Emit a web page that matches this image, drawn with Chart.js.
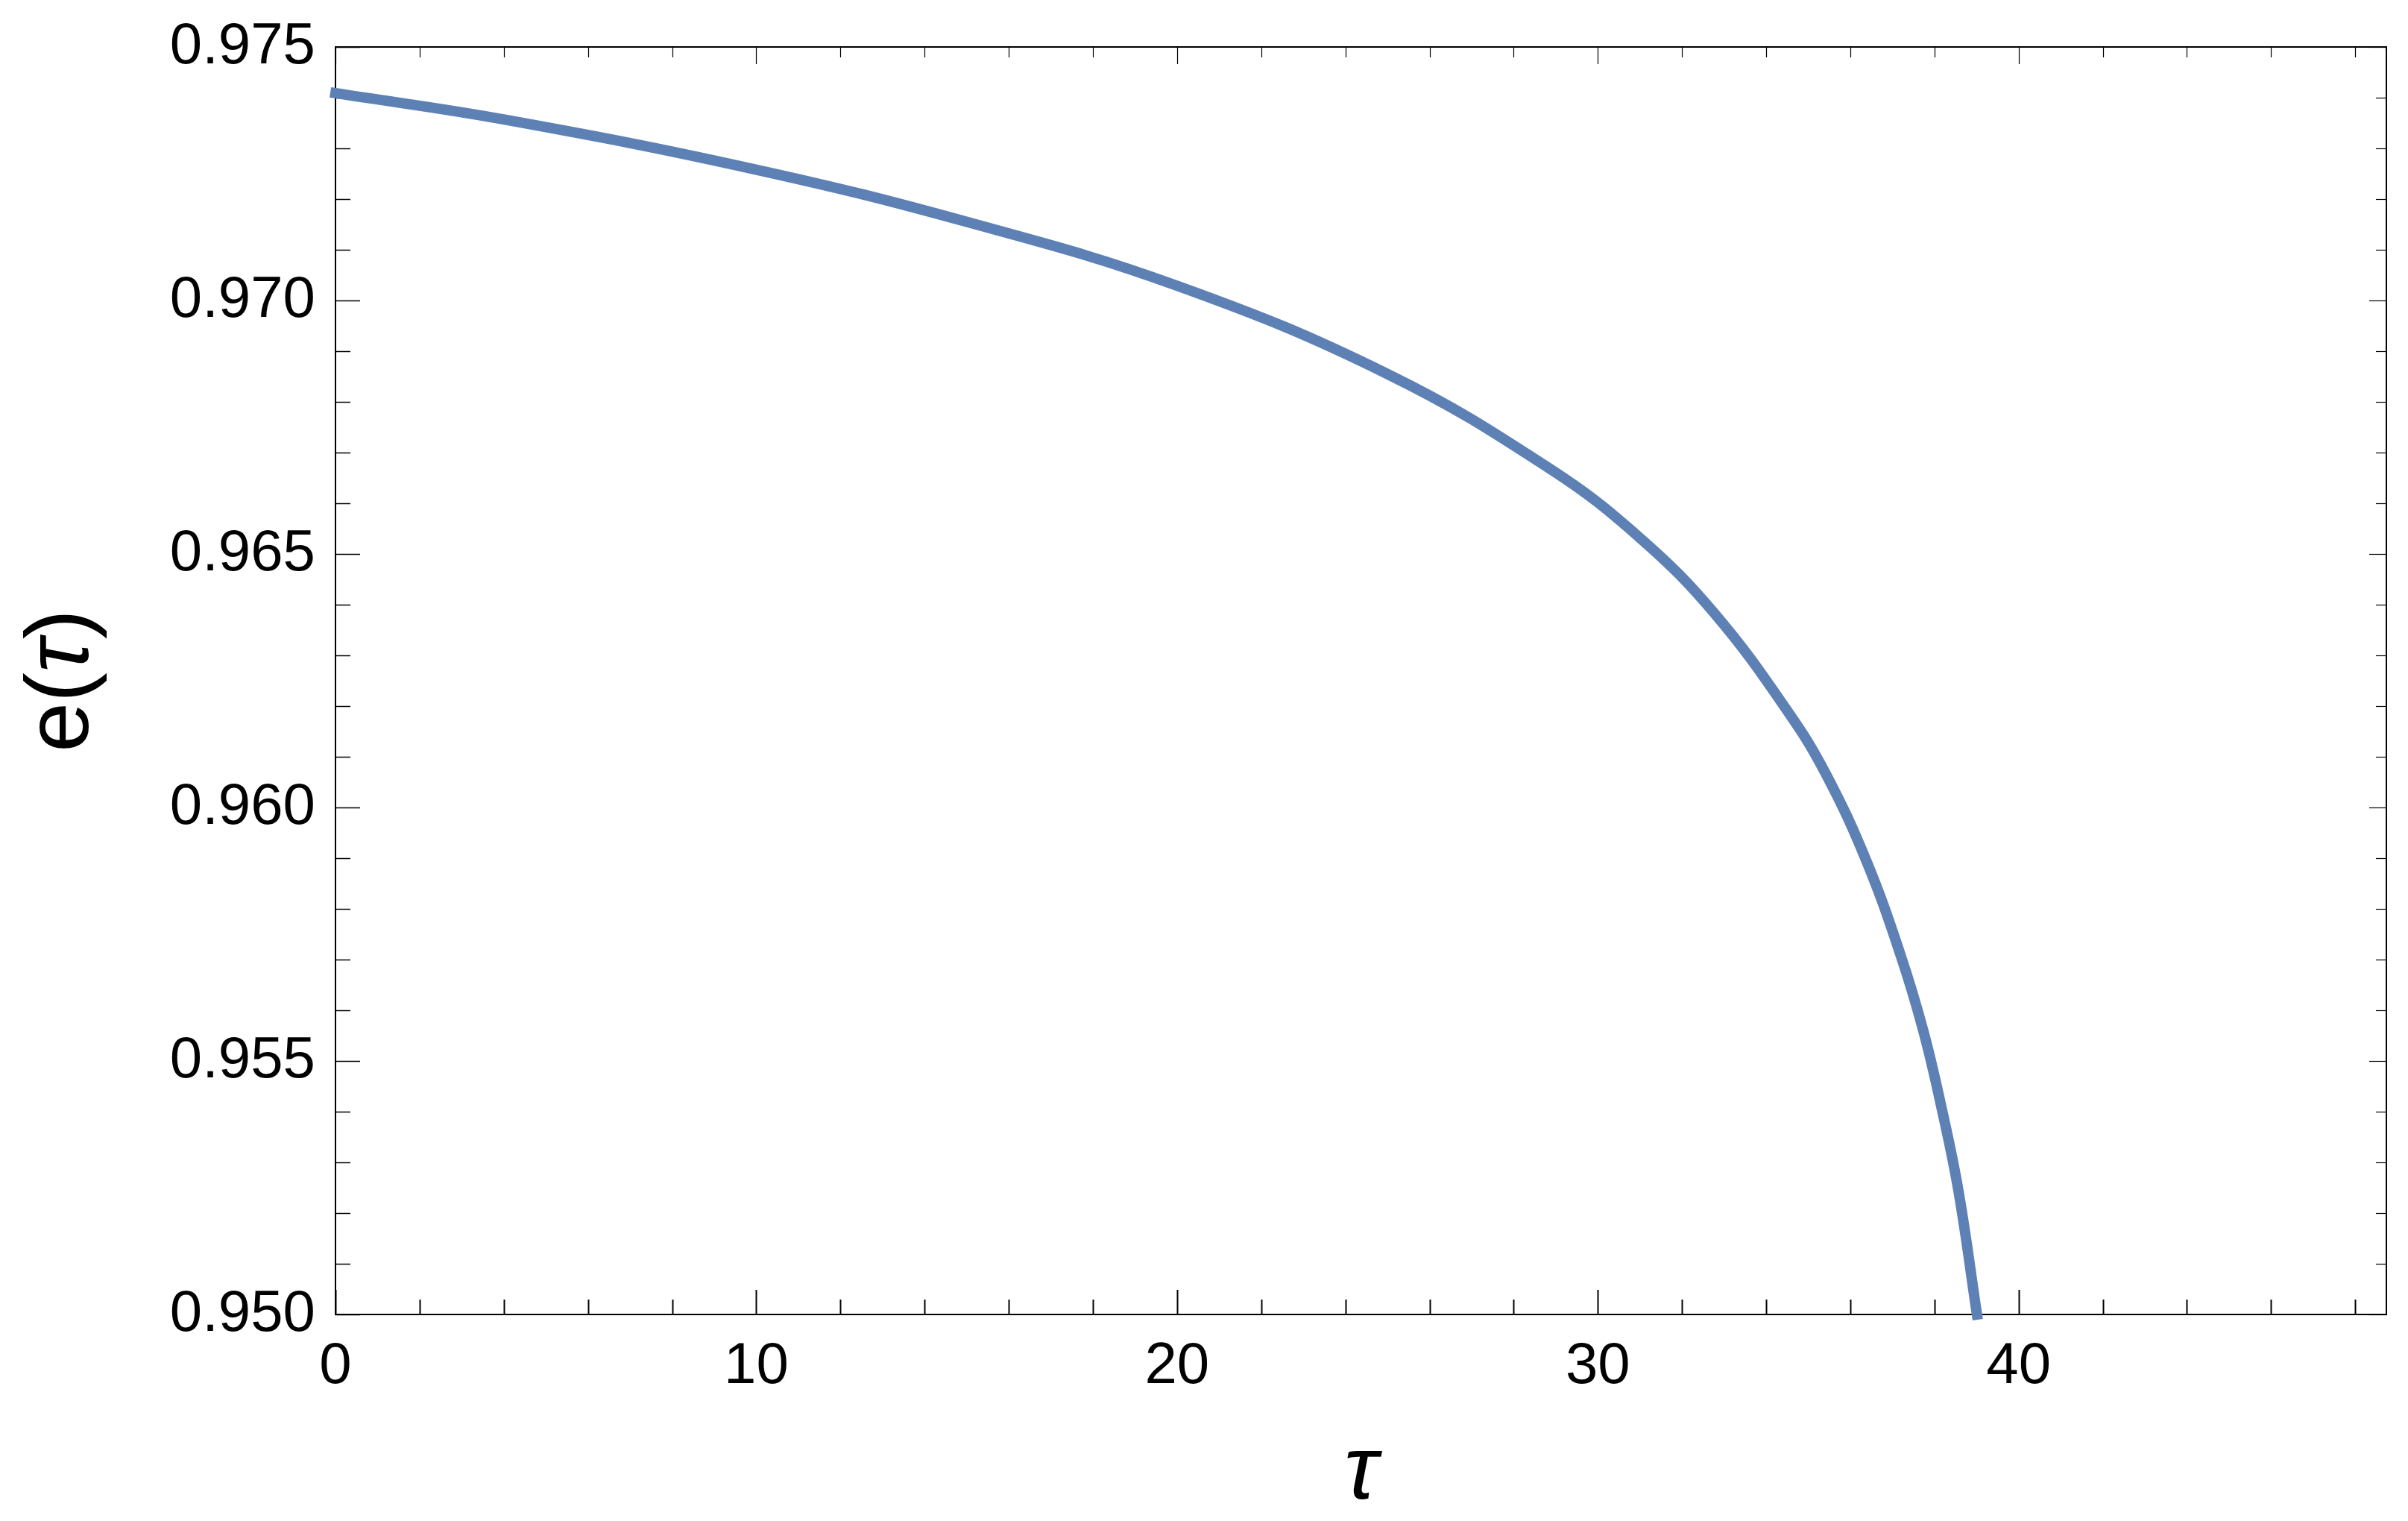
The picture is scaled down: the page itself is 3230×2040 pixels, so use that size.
<!DOCTYPE html>
<html>
<head>
<meta charset="utf-8">
<script src="https://cdn.jsdelivr.net/npm/chart.js@4"></script>
<style>
  html, body { margin: 0; padding: 0; background: #ffffff; }
  canvas { display: block; }
</style>
</head>
<body>
<canvas id="myChart" width="3230" height="2040"></canvas>
<script>
// tau values
var tau = [0, 4.07, 10, 15, 20, 25, 28.88, 31.01, 32.78, 34.55, 35.44, 36.39, 37.21, 37.74, 38.16, 38.57, 39.01];
// e(tau) at those points
var eValues = [0.97409, 0.97356, 0.97258, 0.97155, 0.97029, 0.96855, 0.96667, 0.96531, 0.96382, 0.96185, 0.96063, 0.95893, 0.95705, 0.95558, 0.95411, 0.95244, 0.95];
// tick labels
var xTickLabels = ['0', '10', '20', '30', '40'];
var yTickLabels = ['0.950', '0.955', '0.960', '0.965', '0.970', '0.975'];

var FONT = "'Liberation Sans', Arial, sans-serif";

// draws the frame and the inward ticks on all four sides
var framePlugin = {
  id: 'frameTicks',
  beforeDatasetsDraw: function (chart) {
    var ctx = chart.ctx;
    var a = chart.chartArea;
    var xs = chart.scales.x;
    var ys = chart.scales.y;
    ctx.save();
    ctx.strokeStyle = '#000';

    function line(x1, y1, x2, y2, w) {
      ctx.lineWidth = w;
      ctx.beginPath();
      ctx.moveTo(x1, y1);
      ctx.lineTo(x2, y2);
      ctx.stroke();
    }

    // x ticks every 2, major every 10
    for (var i = 0; i <= 48; i += 2) {
      var px = Math.round(xs.getPixelForValue(i)) + 0.5;
      var major = i % 10 === 0;
      line(px, a.bottom, px, a.bottom - (major ? 33 : 20), 2);
      line(px, a.top, px, a.top + (major ? 23 : 14), 1.2);
    }
    // y ticks every 0.001, major every 0.005
    for (var j = 0; j <= 25; j++) {
      var py = Math.round(ys.getPixelForValue(0.95 + j * 0.001)) + 0.5;
      var majorY = j % 5 === 0;
      line(a.left, py, a.left + (majorY ? 33 : 20), py, 1.5);
      line(a.right, py, a.right - (majorY ? 23 : 14), py, 1.2);
    }

    // frame
    ctx.lineWidth = 2;
    ctx.strokeRect(a.left, a.top, a.right - a.left, a.bottom - a.top);
    ctx.restore();
  }
};

// y axis title e(τ) with an italic tau, rotated
var yTitlePlugin = {
  id: 'yTitle',
  afterDraw: function (chart) {
    var ctx = chart.ctx;
    var a = chart.chartArea;
    var parts = [
      { text: 'e(', style: '' },
      { text: 'τ', style: 'italic ' },
      { text: ')', style: '' },
    ];
    ctx.save();
    ctx.fillStyle = '#000';
    ctx.textBaseline = 'middle';
    ctx.textAlign = 'left';
    var total = 0;
    parts.forEach(function (p) {
      ctx.font = p.style + '120px ' + FONT;
      p.w = ctx.measureText(p.text).width;
      total += p.w;
    });
    ctx.translate(85, (a.top + a.bottom) / 2);
    ctx.rotate(-Math.PI / 2);
    var x = -total / 2;
    parts.forEach(function (p) {
      ctx.font = p.style + '120px ' + FONT;
      ctx.fillText(p.text, x, 0);
      x += p.w;
    });
    ctx.restore();
  }
};

var canvas = document.getElementById('myChart');
var ctx = canvas.getContext('2d');
var myChart = new Chart(ctx, {
  type: 'line',
  data: {
    datasets: [
      {
        data: tau.map(function (t, i) {
          return { x: t, y: eValues[i] };
        }),
        borderColor: '#5e81b5',
        borderWidth: 14,
        borderCapStyle: 'square',
        pointRadius: 0,
        tension: 0.4,
        fill: false,
        clip: false,
      },
    ],
  },
  options: {
    responsive: false,
    animation: false,
    devicePixelRatio: 1,
    layout: { padding: { top: 63, right: 29, left: 0, bottom: 0 } },
    plugins: {
      legend: { display: false },
      tooltip: { enabled: false },
    },
    scales: {
      x: {
        type: 'linear',
        min: 0,
        max: 48.74,
        grid: { display: false, drawTicks: false },
        border: { display: false },
        afterBuildTicks: function (scale) {
          scale.ticks = xTickLabels.map(function (v) {
            return { value: parseFloat(v) };
          });
        },
        afterFit: function (scale) {
          scale.height = 277;
          scale.paddingLeft = 0;
          scale.paddingRight = 0;
        },
        ticks: {
          color: '#000',
          font: { family: FONT, size: 78 },
          padding: 24,
          maxRotation: 0,
          autoSkip: false,
          callback: function (value) {
            return String(value);
          },
        },
        title: {
          display: true,
          text: 'τ',
          color: '#000',
          font: { family: FONT, size: 120, style: 'italic', lineHeight: 1 },
          padding: { top: 0, bottom: 3 },
        },
      },
      y: {
        type: 'linear',
        min: 0.95,
        max: 0.975,
        grid: { display: false, drawTicks: false },
        border: { display: false },
        afterBuildTicks: function (scale) {
          scale.ticks = yTickLabels.map(function (v) {
            return { value: parseFloat(v) };
          });
        },
        afterFit: function (scale) {
          scale.width = 450;
          scale.paddingTop = 0;
          scale.paddingBottom = 0;
        },
        ticks: {
          color: '#000',
          font: { family: FONT, size: 78 },
          padding: 27,
          autoSkip: false,
          callback: function (value) {
            return value.toFixed(3);
          },
        },
        title: { display: false },
      },
    },
  },
  plugins: [framePlugin, yTitlePlugin],
});
</script>
</body>
</html>
